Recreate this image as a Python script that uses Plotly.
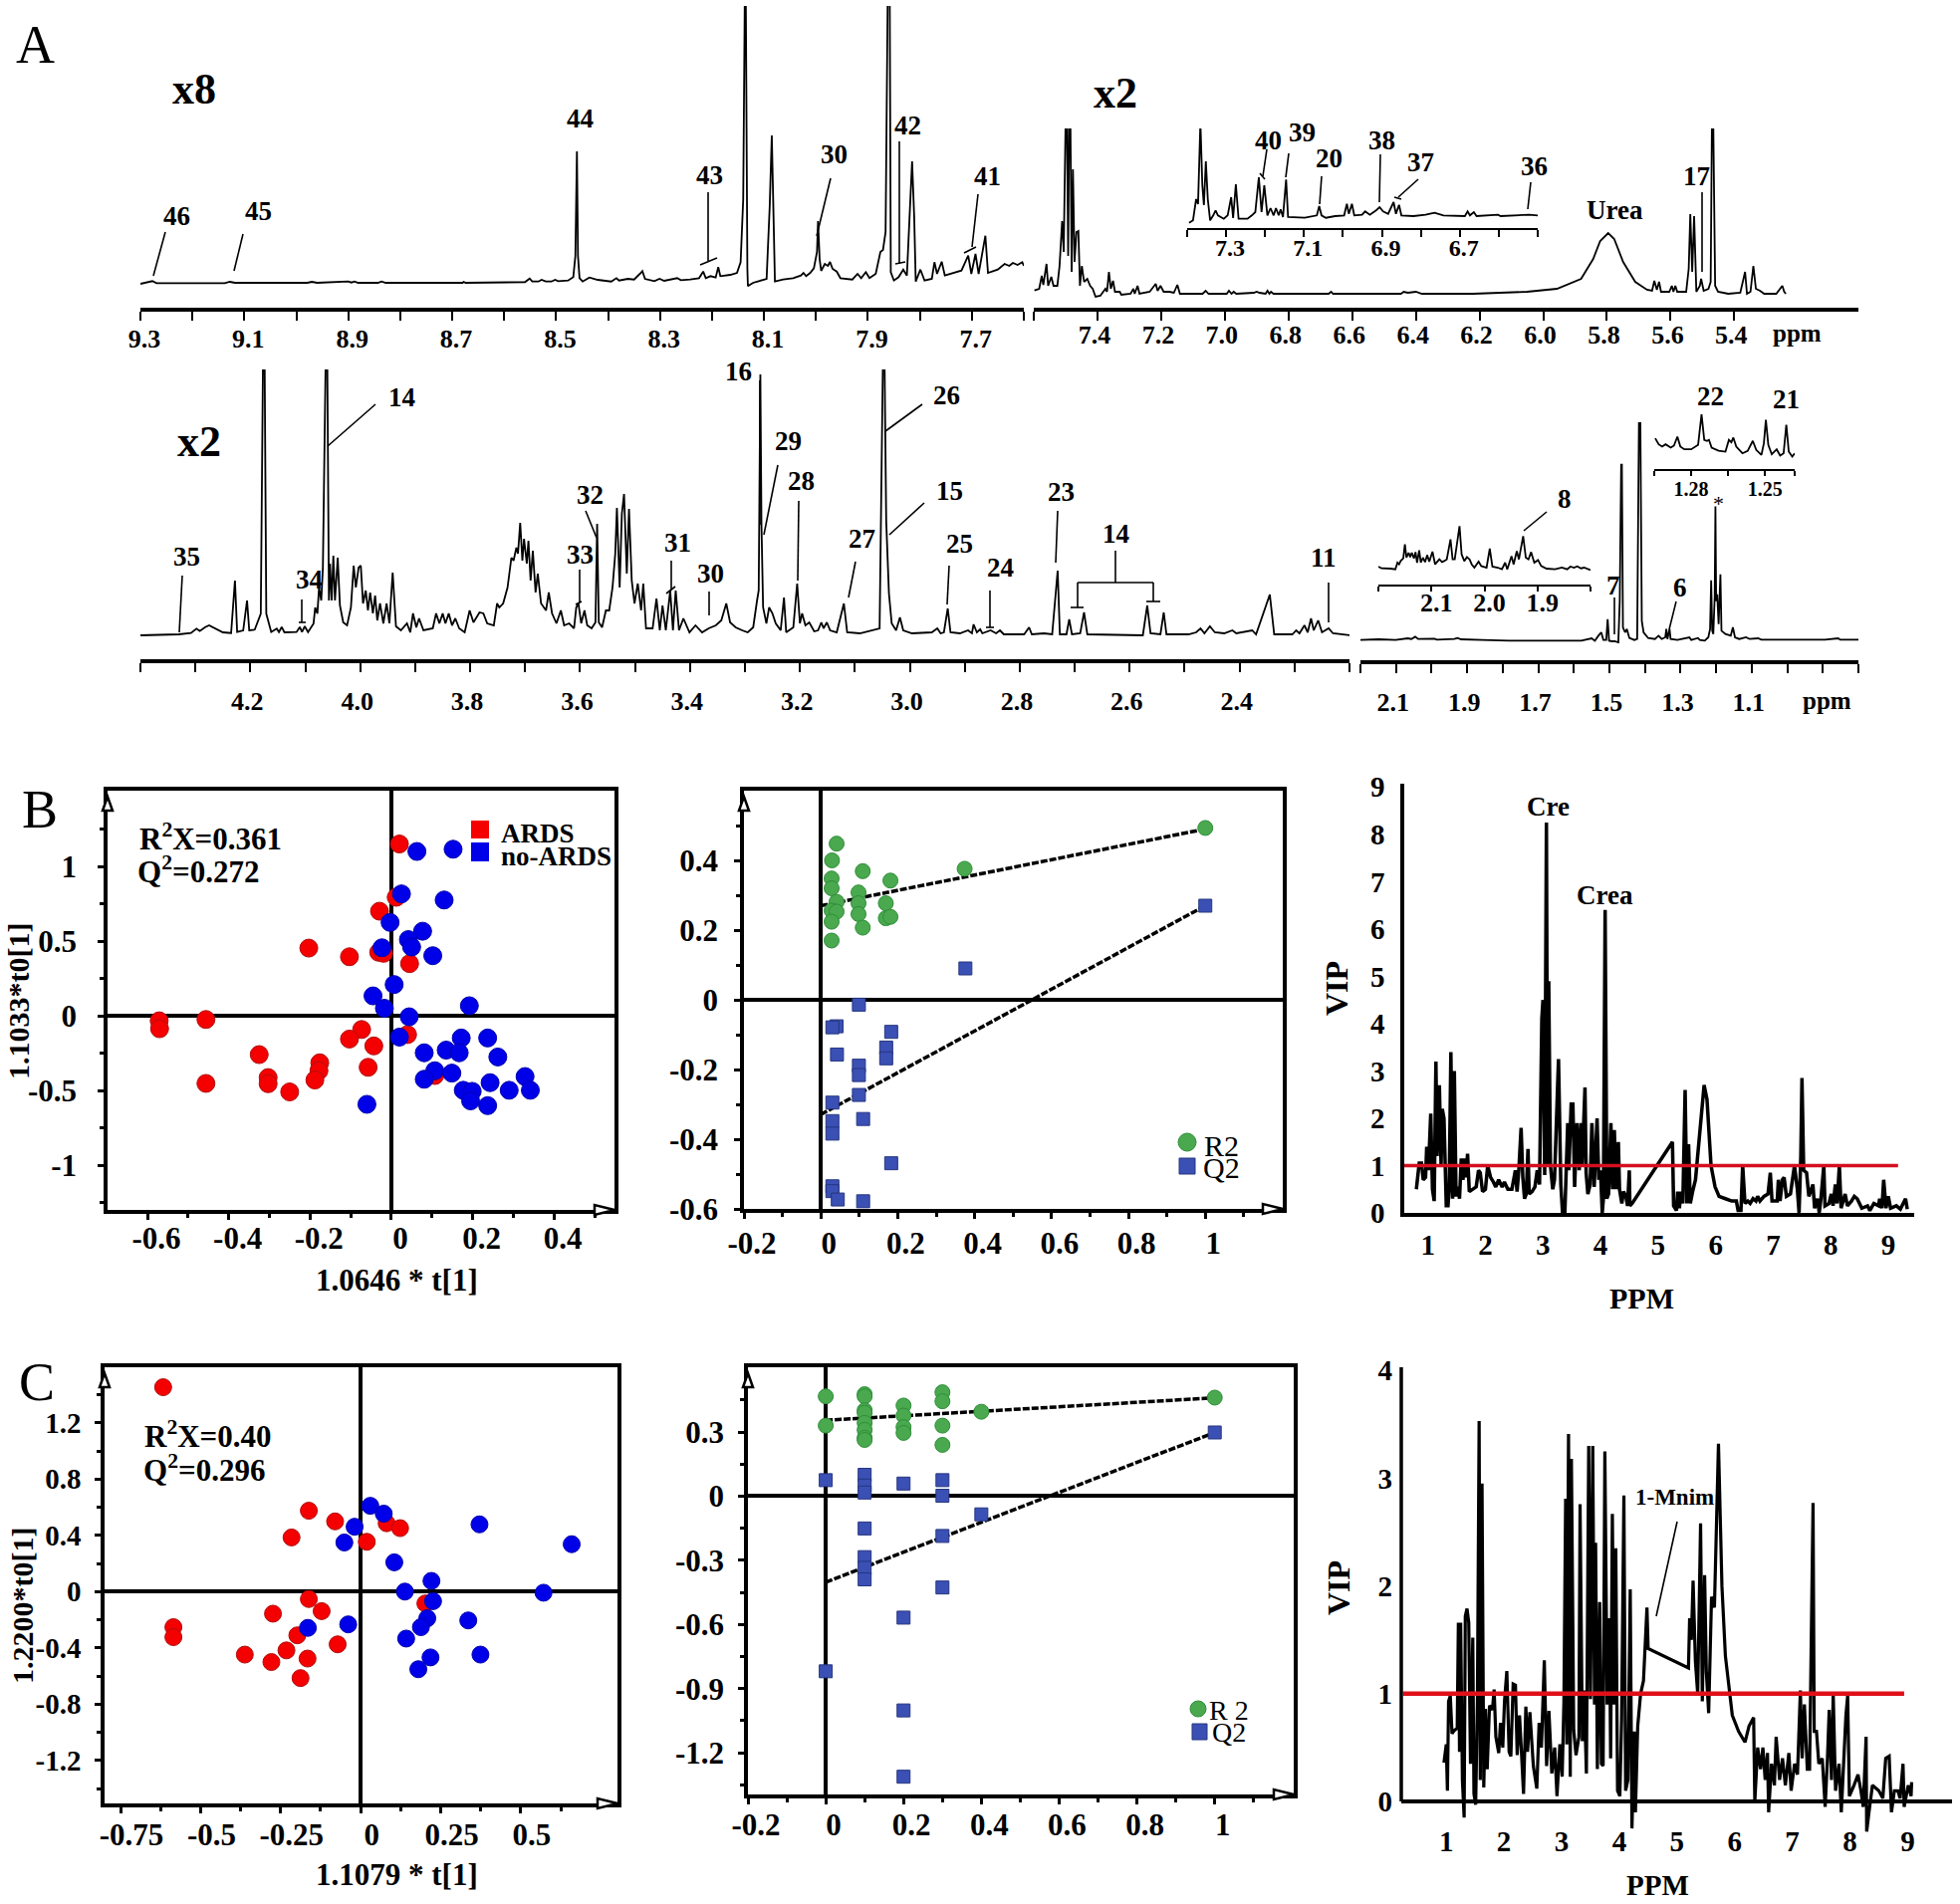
"""NMR spectra (A) with OPLS-DA score, permutation and VIP plots (B, C)."""

import plotly.graph_objects as go

W, H = 1968, 1912
SERIF = "Liberation Serif"

# spectra are (ppm, height above baseline)
SPEC_A1 = [(9.30,0),(9.277,2.7),(9.269,.7),(9.138,.7),(9.128,2),(9.118,1),(8.979,1),(8.97,2),(8.96,1),(8.90,2.3),(8.894,1.3),(8.888,2.3),(8.881,1),(8.843,1),(8.836,2.3),(8.828,1),(8.68,1),(8.678,2),(8.674,1),(8.56,1.7),(8.551,5.3),(8.546,2.3),(8.534,2.3),(8.528,4),(8.52,2.3),(8.509,2.3),(8.502,4),(8.496,2.7),(8.477,3.3),(8.467,6.7),(8.463,28),(8.46,133),(8.458,28),(8.455,5.7),(8.449,2.3),(8.436,6.3),(8.42,4),(8.394,2.3),(8.384,5.7),(8.379,3.3),(8.362,5),(8.35,4.3),(8.339,10),(8.334,12.7),(8.329,5),(8.311,2.7),(8.301,5),(8.292,3),(8.267,5.7),(8.26,3.7),(8.242,4.3),(8.225,5.7),(8.217,12.3),(8.212,5.7),(8.203,7.7),(8.193,6.3),(8.188,16.7),(8.184,7.7),(8.165,9),(8.152,11),(8.145,21.7),(8.14,85),(8.137,285),(8.135,285),(8.132,15),(8.131,-2.3),(8.121,1),(8.108,3.3),(8.095,5),(8.089,78),(8.085,149),(8.081,52),(8.079,2.3),(8.063,4.3),(8.044,5.7),(8.029,8.3),(8.024,11),(8.019,7.7),(8.011,11),(8.004,15.7),(7.998,32),(7.996,63),(7.993,25),(7.99,13),(7.983,20),(7.977,18),(7.973,22),(7.968,15),(7.96,12.3),(7.953,5.7),(7.93,4.3),(7.92,10),(7.913,5.7),(7.904,11.7),(7.897,5.7),(7.885,10),(7.876,32),(7.871,34),(7.866,52),(7.862,285),(7.858,285),(7.856,11.7),(7.85,3.3),(7.841,6.7),(7.832,14.3),(7.825,8.3),(7.818,85),(7.815,123),(7.811,68),(7.808,2.3),(7.799,14.3),(7.791,3.3),(7.777,5),(7.772,21.7),(7.767,10),(7.758,22.3),(7.752,8.3),(7.733,11),(7.72,13.3),(7.707,28.3),(7.701,10),(7.693,30),(7.687,10),(7.674,48.3),(7.669,11),(7.65,14.3),(7.637,20),(7.628,18),(7.621,21),(7.612,19),(7.603,21.7),(7.6,18)]
SPEC_A2 = [(7.598,3.3),(7.583,5),(7.575,18),(7.57,9),(7.56,30),(7.555,8),(7.545,17),(7.538,8),(7.526,8),(7.519,28),(7.511,73),(7.506,42),(7.5,175),(7.496,175),(7.492,38),(7.489,175),(7.485,175),(7.481,22),(7.477,125),(7.472,32),(7.466,62),(7.46,63),(7.455,8),(7.449,28),(7.442,12),(7.432,15),(7.423,8),(7.415,5),(7.406,-3),(7.391,-2),(7.375,5),(7.37,2),(7.364,22),(7.358,5),(7.351,13),(7.345,2),(7.33,2),(7.325,-1),(7.296,0),(7.287,5),(7.283,0),(7.274,8),(7.268,0),(7.236,2),(7.217,10),(7.211,3),(7.202,8),(7.192,2),(7.174,2),(7.16,1),(7.149,9),(7.141,0),(7.07,0),(7.06,3),(7.051,0),(6.994,0),(6.987,3),(6.979,0),(6.972,2),(6.964,0),(6.909,1),(6.9,2),(6.891,1),(6.872,0),(6.866,3),(6.86,0),(6.855,2),(6.847,0),(6.768,0),(6.674,0),(6.666,2),(6.66,0),(6.447,0),(6.438,2),(6.425,1),(6.4,2),(6.381,0),(6.221,0),(6.051,2),(5.957,5),(5.881,15),(5.843,35),(5.821,53),(5.796,61),(5.777,55),(5.749,32),(5.711,12),(5.674,4),(5.658,3),(5.651,13),(5.643,4),(5.636,12),(5.63,2),(5.604,2),(5.596,8),(5.591,2),(5.585,8),(5.579,2),(5.551,2),(5.543,25),(5.538,80),(5.532,22),(5.526,78),(5.519,2),(5.508,8),(5.504,15),(5.496,3),(5.481,5),(5.474,12),(5.47,175),(5.466,175),(5.46,8),(5.451,2),(5.419,0),(5.381,1),(5.366,22),(5.36,0),(5.349,2),(5.34,28),(5.332,5),(5.319,3),(5.306,0),(5.268,0),(5.258,4),(5.249,8),(5.243,2),(5.238,0)]
SPEC_A2_INSET = [(7.395,-5.7),(7.385,-3.3),(7.377,18),(7.372,13),(7.366,95),(7.361,32),(7.357,12),(7.352,56),(7.347,18),(7.341,-3.3),(7.333,1.7),(7.327,6.7),(7.321,1.7),(7.315,0),(7.306,-1.7),(7.296,1.7),(7.287,20),(7.282,-1),(7.275,33),(7.268,-1.7),(7.245,-1.7),(7.234,1.7),(7.225,5),(7.216,40),(7.209,5),(7.202,32),(7.194,1.7),(7.186,9),(7.178,1.7),(7.172,9),(7.165,1.7),(7.16,7.7),(7.154,0),(7.146,37.7),(7.141,0),(7.098,-.7),(7.067,1.7),(7.061,11),(7.055,1.7),(7.044,-.7),(7.02,1),(6.997,1.7),(6.99,13.3),(6.985,3.3),(6.977,13.3),(6.971,1.7),(6.951,2.3),(6.943,5.7),(6.931,2.3),(6.915,6.7),(6.906,10),(6.897,5.7),(6.884,3.3),(6.87,15),(6.864,3.3),(6.856,12.3),(6.85,1.7),(6.819,1),(6.788,2.3),(6.765,4.3),(6.742,1.7),(6.687,1),(6.68,5.7),(6.674,1.7),(6.664,5),(6.657,1),(6.602,2.3),(6.595,1),(6.528,1.7),(6.522,2.3),(6.5,1.7)]
SPEC_A3 = [(4.40,0),(4.33,1),(4.308,2.3),(4.298,6.7),(4.292,4.3),(4.282,8.3),(4.275,10),(4.264,6.7),(4.25,3),(4.235,2.3),(4.228,55),(4.224,3.3),(4.213,5),(4.206,35),(4.202,5),(4.192,5.7),(4.181,21.7),(4.177,275),(4.174,275),(4.171,21.7),(4.162,3.3),(4.152,6.7),(4.148,3.3),(4.143,8.3),(4.138,3),(4.116,3.3),(4.11,8.3),(4.106,3.3),(4.101,9),(4.095,3.3),(4.085,11.7),(4.082,28),(4.078,21.7),(4.075,48),(4.071,35),(4.068,68),(4.063,275),(4.06,275),(4.057,35),(4.055,72),(4.052,35),(4.049,80),(4.046,35),(4.041,78),(4.037,30),(4.031,13),(4.024,10),(4.017,28),(4.012,70),(4.008,48),(4.003,68),(3.999,70),(3.995,32),(3.99,45),(3.986,25),(3.982,43),(3.977,22),(3.973,40),(3.969,15),(3.964,32),(3.958,12),(3.952,32),(3.947,12),(3.941,63),(3.935,9),(3.926,5),(3.915,12),(3.909,3),(3.904,22),(3.898,8),(3.893,17),(3.885,5),(3.868,7),(3.862,22),(3.856,12),(3.85,22),(3.845,12),(3.839,22),(3.833,10),(3.827,17),(3.82,7),(3.81,3),(3.801,25),(3.794,13),(3.783,23),(3.776,22),(3.769,12),(3.757,10),(3.751,32),(3.747,28),(3.74,32),(3.732,48),(3.725,78),(3.721,75),(3.716,88),(3.713,82),(3.709,113),(3.705,75),(3.702,97),(3.697,72),(3.694,95),(3.69,55),(3.686,85),(3.681,43),(3.677,62),(3.671,32),(3.662,25),(3.657,43),(3.651,22),(3.643,12),(3.635,25),(3.629,10),(3.62,12),(3.611,7),(3.607,28),(3.603,32),(3.598,12),(3.592,25),(3.587,10),(3.579,7),(3.572,13),(3.569,112),(3.566,13),(3.56,8),(3.553,25),(3.547,25),(3.541,48),(3.536,82),(3.533,128),(3.528,48),(3.524,122),(3.52,142),(3.515,62),(3.511,127),(3.506,55),(3.501,32),(3.495,52),(3.489,25),(3.485,52),(3.48,7),(3.468,7),(3.461,37),(3.455,5),(3.45,30),(3.444,5),(3.436,45),(3.431,5),(3.426,45),(3.42,5),(3.412,17),(3.401,3),(3.39,10),(3.378,3),(3.366,7),(3.353,10),(3.343,15),(3.334,32),(3.327,13),(3.317,8),(3.305,5),(3.295,3),(3.285,8),(3.28,30),(3.278,35),(3.275,45),(3.272,262),(3.27,112),(3.267,28),(3.261,12),(3.256,28),(3.25,22),(3.244,12),(3.235,5),(3.229,38),(3.225,3),(3.212,8),(3.205,52),(3.2,12),(3.196,22),(3.19,10),(3.183,13),(3.174,4),(3.167,5),(3.161,13),(3.157,7),(3.151,13),(3.145,5),(3.133,3),(3.12,32),(3.114,3),(3.091,2),(3.055,7),(3.049,275),(3.046,275),(3.043,115),(3.038,42),(3.033,12),(3.025,5),(3.018,18),(3.012,5),(2.996,2),(2.96,3),(2.95,7),(2.944,2),(2.938,3),(2.931,27),(2.926,3),(2.909,2),(2.894,5),(2.887,2),(2.884,11),(2.878,3),(2.872,6),(2.868,2),(2.853,5),(2.843,2),(2.836,5),(2.829,1),(2.792,1),(2.783,8),(2.778,1),(2.756,2),(2.741,1),(2.731,65),(2.727,1),(2.715,1),(2.71,16),(2.705,1),(2.69,2),(2.683,23),(2.677,1),(2.617,0),(2.576,0),(2.568,30),(2.562,2),(2.544,1),(2.538,23),(2.533,1),(2.493,1),(2.479,3),(2.471,7),(2.464,2),(2.454,9),(2.445,3),(2.428,2),(2.413,5),(2.406,2),(2.377,5),(2.37,1),(2.345,41),(2.337,1),(2.304,1),(2.297,5),(2.291,2),(2.282,10),(2.276,3),(2.27,17),(2.265,5),(2.257,15),(2.25,3),(2.238,7),(2.23,2),(2.199,0)]
SPEC_A4 = [(2.2,0),(2.149,.7),(2.101,0),(2.067,1.7),(2.057,1),(2.046,3.3),(2.038,1),(1.992,1.3),(1.985,.3),(1.936,1),(1.927,2),(1.917,.7),(1.859,0),(1.782,-.7),(1.647,-.7),(1.579,-.7),(1.55,1.7),(1.541,-.7),(1.531,4.3),(1.523,7.7),(1.517,0),(1.509,0),(1.505,21),(1.501,-.7),(1.492,-1.3),(1.485,-1.3),(1.475,-2.3),(1.471,39),(1.467,176),(1.465,176),(1.462,12.7),(1.456,7.7),(1.451,11),(1.444,2),(1.43,0),(1.422,1),(1.417,217.7),(1.413,217.7),(1.409,19.3),(1.404,7.7),(1.391,2),(1.372,1),(1.362,4.3),(1.353,1),(1.343,2.7),(1.34,11),(1.337,1),(1.331,11),(1.328,1),(1.309,0),(1.275,2.7),(1.27,0),(1.251,2),(1.246,0),(1.232,-.7),(1.222,2.7),(1.217,11),(1.214,60),(1.211,9.3),(1.208,6),(1.204,44),(1.202,134.3),(1.2,39),(1.197,46),(1.193,16),(1.188,66),(1.185,9.3),(1.174,6),(1.159,4.3),(1.153,12.7),(1.147,2.7),(1.135,1),(1.116,2.7),(1.106,1),(1.082,1.7),(1.073,.3),(.991,.3),(.894,.3),(.857,1.7),(.851,.3),(.8,.3)]
SPEC_A4_INSET8 = [(2.2,2.7),(2.194,1),(2.177,.7),(2.168,0),(2.164,6.7),(2.161,5),(2.158,8.3),(2.153,11),(2.15,25),(2.147,11.7),(2.143,16.7),(2.14,12.3),(2.137,16.7),(2.133,11),(2.13,17.3),(2.127,6.7),(2.123,19),(2.12,6.7),(2.116,11.7),(2.112,7.3),(2.108,14.3),(2.104,7.7),(2.098,17.7),(2.093,5),(2.085,10),(2.08,7.3),(2.076,8.3),(2.071,10),(2.064,30),(2.06,10),(2.056,10),(2.047,43.3),(2.043,15),(2.038,8.3),(2.033,12.3),(2.028,10),(2.024,5),(2.019,1.7),(2.011,7.7),(2.006,3.3),(1.996,1.7),(1.99,20.7),(1.985,2.7),(1.975,1.7),(1.967,0),(1.961,6.7),(1.957,0),(1.949,13.3),(1.945,5),(1.939,18.3),(1.935,10),(1.927,33.3),(1.922,11.7),(1.917,10),(1.912,17.3),(1.906,6.7),(1.899,9.3),(1.893,3.3),(1.883,.7),(1.867,0),(1.854,1.7),(1.844,0),(1.838,2.7),(1.831,1.7),(1.825,3),(1.818,1),(1.812,1.7),(1.8,-.7)]
SPEC_A4_INSET22 = [(1.2946,17.3),(1.2932,11.3),(1.2918,9),(1.2904,11.3),(1.2883,8),(1.287,10),(1.2856,19),(1.2844,9),(1.2828,6.3),(1.28,6.3),(1.2772,10.7),(1.2758,41.3),(1.2747,15.7),(1.2736,14.7),(1.2728,15.7),(1.2717,8),(1.2689,5),(1.2661,4),(1.2647,15.7),(1.2637,13.3),(1.2629,18),(1.2617,9),(1.2592,2.3),(1.2571,4.7),(1.255,14.7),(1.2536,5.7),(1.2515,.7),(1.2505,12.3),(1.2497,35.7),(1.2487,10.7),(1.2473,1.3),(1.2453,6.3),(1.2439,0),(1.2425,2.3),(1.2414,30.7),(1.2404,4),(1.239,-1),(1.238,2.3)]

A1_TICKS = [9.3,9.1,8.9,8.7,8.5,8.3,8.1,7.9,7.7]
A1_TEXT = ["9.3","9.1","8.9","8.7","8.5","8.3","8.1","7.9","7.7"]
A1_MINOR = [9.2,9.0,8.8,8.6,8.4,8.2,8.0,7.8,7.6]
A2_TICKS = [7.4,7.2,7.0,6.8,6.6,6.4,6.2,6.0,5.8,5.6,5.4]
A2_TEXT = ["7.4","7.2","7.0","6.8","6.6","6.4","6.2","6.0","5.8","5.6","5.4"]
A2_MINOR = [7.6]
A2_INSET_TICKS = [7.3,7.1,6.9,6.7]
A2_INSET_TEXT = ["7.3","7.1","6.9","6.7"]
A2_INSET_MINOR = [7.4,7.2,7.0,6.8,6.6,6.5]
A3_TICKS = [4.2,4.0,3.8,3.6,3.4,3.2,3.0,2.8,2.6,2.4]
A3_TEXT = ["4.2","4.0","3.8","3.6","3.4","3.2","3.0","2.8","2.6","2.4"]
A3_MINOR = [4.4,4.3,4.1,3.9,3.7,3.5,3.3,3.1,2.9,2.7,2.5,2.3,2.2]
A4_TICKS = [2.1,1.9,1.7,1.5,1.3,1.1]
A4_TEXT = ["2.1","1.9","1.7","1.5","1.3","1.1"]
A4_MINOR = [2.2,2.0,1.8,1.6,1.4,1.2,1.0,0.9,0.8]
INSET8_TICKS = [2.1,2.0,1.9]
INSET8_TEXT = ["2.1","2.0","1.9"]
INSET8_MINOR = [2.2,1.8]
INSET22_TICKS = [1.28,1.25]
INSET22_TEXT = ["1.28","1.25"]
INSET22_MINOR = [1.295,1.265,1.238]

# B: score plot
B_RED_X = [.02,.012,-.029,-.203,-.103,-.031,-.019,.045,-.571,-.57,-.456,-.073,-.103,-.043,.04,-.325,-.057,-.176,-.178,-.188,-.303,-.303,-.456,-.25,.107]
B_RED_Y = [1.15,.793,.70,.453,.395,.425,.418,.349,-.034,-.087,-.025,-.092,-.156,-.202,-.126,-.26,-.345,-.315,-.368,-.43,-.414,-.455,-.453,-.51,-.40]
B_BLUE_X = [.063,.152,.025,.13,-.003,.077,.042,.05,-.023,.102,.007,-.045,-.017,.192,.044,.02,.172,.237,.081,.135,.167,.262,.107,.149,.081,.329,.243,.342,.29,.177,.199,.195,.237,-.06]
B_BLUE_Y = [1.10,1.115,.816,.775,.625,.566,.51,.46,.455,.402,.209,.133,.05,.067,-.007,-.143,-.149,-.149,-.248,-.23,-.248,-.276,-.368,-.384,-.425,-.407,-.448,-.499,-.499,-.499,-.506,-.57,-.602,-.593]

# B: permutation test
B_R2_X = [.041,.029,.028,.028,.041,.028,.041,.028,.028,.109,.098,.098,.098,.109,.181,.169,.169,.181,.374,1]
B_R2_Y = [.448,.40,.348,.32,.281,.256,.253,.224,.17,.369,.308,.277,.246,.207,.342,.277,.234,.238,.376,.493]
B_Q2_X = [.041,.03,.099,.183,.17,.17,.042,.099,.099,.099,.03,.03,.03,.11,.183,.03,.03,.044,.11,.376,1]
B_Q2_Y = [-.076,-.079,-.014,-.092,-.137,-.168,-.157,-.189,-.216,-.273,-.295,-.348,-.384,-.342,-.469,-.535,-.549,-.573,-.578,.09,.27]
B_R2_FIT_X, B_R2_FIT_Y = [0,1], [.27,.49]
B_Q2_FIT_X, B_Q2_FIT_Y = [0,1], [-.329,.27]

# B: VIP
B_VIP = [(.80,.5),(.85,1.05),(.89,1.05),(.92,.7),(.96,.75),(.98,1.4),(1.01,.9),(1.05,2.1),(1.08,.5),(1.11,.25),(1.14,3.2),(1.16,1.2),(1.2,2.7),(1.23,1),(1.25,2.2),(1.28,2),(1.32,.15),(1.35,.15),(1.37,.5),(1.4,3.4),(1.43,.3),(1.46,3),(1.49,.35),(1.52,.55),(1.55,.3),(1.58,1.15),(1.61,.7),(1.64,1.15),(1.66,.75),(1.69,1.25),(1.72,.45),(1.79,.5),(1.84,.55),(1.88,.9),(1.91,.85),(1.95,.45),(2.0,.5),(2.04,1),(2.09,.75),(2.14,.65),(2.18,.55),(2.23,.7),(2.29,.55),(2.33,.65),(2.39,.5),(2.46,.5),(2.52,.9),(2.55,.45),(2.58,.9),(2.62,1.8),(2.65,.75),(2.68,.3),(2.71,.4),(2.74,1.35),(2.76,.4),(2.81,.45),(2.86,.55),(2.9,.9),(2.94,.6),(2.98,4.1),(3.0,4.5),(3.03,.8),(3.06,8.25),(3.08,1),(3.1,4.9),(3.13,1),(3.17,.5),(3.2,.7),(3.24,2),(3.27,3.25),(3.31,.6),(3.34,0),(3.38,0),(3.4,1),(3.43,1.9),(3.45,.9),(3.49,2.3),(3.52,2.3),(3.55,.55),(3.59,1.9),(3.63,.9),(3.66,1.9),(3.68,1),(3.73,2.65),(3.75,.85),(3.78,.4),(3.82,.6),(3.85,1.9),(3.89,.55),(3.94,2),(3.97,.7),(4.0,.9),(4.03,0),(4.05,.3),(4.08,6.4),(4.11,.3),(4.14,.4),(4.18,1.9),(4.21,.5),(4.24,1.75),(4.27,.5),(4.31,1.5),(4.33,.5),(4.37,.2),(4.4,.45),(4.44,.35),(4.47,.15),(4.5,.9),(4.51,.15),(4.55,.2),(5.25,1.5),(5.27,.15),(5.32,.05),(5.34,.45),(5.37,.1),(5.4,.45),(5.43,.2),(5.47,2.6),(5.5,.2),(5.53,1.45),(5.56,.2),(5.6,.45),(5.65,.7),(5.71,1.5),(5.8,2.7),(5.85,2.4),(5.92,1),(5.99,.55),(6.06,.35),(6.17,.3),(6.28,.25),(6.36,.25),(6.39,.05),(6.44,.05),(6.47,1),(6.51,.2),(6.56,.25),(6.6,.2),(6.65,.3),(6.7,.25),(6.73,.35),(6.77,.25),(6.84,.35),(6.91,.4),(6.95,.85),(6.98,.25),(7.07,.25),(7.09,.7),(7.12,.25),(7.16,.7),(7.19,.75),(7.23,.35),(7.3,.4),(7.37,1),(7.42,.5),(7.45,0),(7.48,1.2),(7.5,2.85),(7.53,.9),(7.58,.85),(7.62,.35),(7.69,.6),(7.72,.1),(7.77,.3),(7.8,0),(7.83,.3),(7.88,1),(7.9,.15),(7.97,.2),(8.01,.4),(8.04,.15),(8.08,.6),(8.11,.2),(8.15,1),(8.18,.1),(8.25,.4),(8.29,.15),(8.36,.25),(8.41,.35),(8.46,.3),(8.54,.1),(8.64,.15),(8.68,.05),(8.75,.2),(8.83,.15),(8.85,.3),(8.89,.1),(8.92,.7),(8.96,.1),(9.0,.35),(9.04,.1),(9.14,.15),(9.21,.08),(9.3,.3),(9.33,.08)]
B_VIP_CUT_X, B_VIP_CUT_Y = [.59,9.17], [1,1]

# C: score plot
C_RED_X = [-.617,-.162,-.08,-.216,.081,.123,.019,-.585,-.585,-.274,-.162,-.122,-.198,-.232,-.362,-.279,-.166,-.188,-.072,.202]
C_RED_Y = [1.453,.575,.499,.385,.486,.451,.354,-.253,-.324,-.157,-.053,-.139,-.311,-.418,-.448,-.501,-.476,-.615,-.375,-.084]
C_BLUE_X = [.03,.072,-.019,-.051,.371,.659,.105,.221,.138,.571,.226,-.039,-.165,.208,.188,.336,.142,.374,.218,.18]
C_BLUE_Y = [.61,.554,.461,.349,.478,.337,.208,.076,0,-.008,-.068,-.233,-.258,-.19,-.253,-.205,-.334,-.448,-.468,-.552]

# C: permutation test
C_R2_X = [0,0,.1,.1,.1,.1,.1,.1,.1,.1,.2,.2,.2,.2,.3,.3,.3,.3,.4,1]
C_R2_Y = [.467,.33,.477,.467,.402,.39,.343,.31,.273,.263,.424,.377,.323,.296,.486,.444,.33,.24,.395,.461]
C_Q2_X = [0,0,.1,.1,.1,.1,.1,.1,.1,.2,.2,.2,.2,.3,.3,.3,.3,.4,1]
C_Q2_Y = [.075,-.819,.1,.05,.017,-.151,-.285,-.335,-.389,.059,-.568,-1.002,-1.312,.075,.002,-.186,-.427,-.085,.298]
C_R2_FIT_X, C_R2_FIT_Y = [0,1], [.355,.46]
C_Q2_FIT_X, C_Q2_FIT_Y = [0,1], [-.402,.298]

# C: VIP
C_VIP = [(.96,.36),(1,.53),(1.02,.1),(1.04,.93),(1.07,.98),(1.1,.63),(1.14,.66),(1.19,.68),(1.21,1.66),(1.23,.46),(1.25,1.66),(1.28,.2),(1.31,-.15),(1.33,1.72),(1.36,1.79),(1.39,1.66),(1.42,.35),(1.46,1.52),(1.48,.07),(1.51,-.03),(1.54,.93),(1.57,3.53),(1.59,.2),(1.62,2.95),(1.65,.13),(1.68,.86),(1.71,.3),(1.75,.89),(1.8,.85),(1.83,1.04),(1.86,.6),(1.91,.45),(1.94,.73),(1.98,.5),(2.01,.93),(2.05,1.21),(2.09,.46),(2.12,.42),(2.16,1.09),(2.2,1.08),(2.23,.43),(2.27,.8),(2.3,.5),(2.34,.07),(2.38,.88),(2.41,.46),(2.45,.83),(2.51,.33),(2.57,.12),(2.61,.73),(2.65,.5),(2.7,1.31),(2.74,.33),(2.78,.84),(2.83,.26),(2.88,.5),(2.92,.05),(2.97,.53),(3.01,.23),(3.04,.93),(3.07,2.81),(3.09,.53),(3.12,3.41),(3.15,.23),(3.17,3.18),(3.21,.66),(3.25,.43),(3.3,.6),(3.32,2.76),(3.36,.56),(3.39,1.03),(3.43,.26),(3.47,3.3),(3.5,.95),(3.54,3.3),(3.57,.9),(3.59,2.4),(3.62,.3),(3.66,1.85),(3.69,.35),(3.72,.33),(3.75,3.25),(3.79,.9),(3.83,1.7),(3.85,.4),(3.88,2.67),(3.91,.9),(3.94,2.35),(3.97,.1),(4.01,.05),(4.04,.75),(4.08,2.84),(4.11,.1),(4.15,.2),(4.19,1.97),(4.22,-.25),(4.26,.65),(4.28,-.1),(4.32,.7),(4.37,1),(4.42,1.12),(4.48,1.8),(4.5,1.42),(5.2,1.24),(5.22,1.7),(5.25,1.5),(5.28,2.05),(5.32,1.3),(5.36,1),(5.41,2.58),(5.44,.93),(5.48,2.1),(5.51,1.2),(5.55,.82),(5.6,1.9),(5.65,1.8),(5.72,3.32),(5.78,2),(5.84,1.35),(5.91,1),(5.96,.8),(6.07,.65),(6.18,.55),(6.25,.7),(6.33,.78),(6.35,0),(6.4,.5),(6.45,.3),(6.49,.5),(6.53,.2),(6.57,.45),(6.59,-.1),(6.64,.35),(6.69,.15),(6.72,.6),(6.78,.2),(6.83,.4),(6.88,.15),(6.94,.45),(6.98,.1),(7.04,.35),(7.09,.25),(7.14,1.03),(7.17,.4),(7.21,.9),(7.26,.3),(7.3,.3),(7.36,2.77),(7.38,.65),(7.42,.65),(7.46,.35),(7.52,.4),(7.57,-.05),(7.61,.4),(7.64,.85),(7.68,.2),(7.71,1),(7.75,.1),(7.81,.35),(7.85,-.1),(7.88,.3),(7.93,.8),(7.96,.98),(7.99,.05),(8.07,.15),(8.14,.25),(8.19,.1),(8.23,-.05),(8.28,.6),(8.29,-.28),(8.33,-.1),(8.39,.15),(8.5,.1),(8.57,.03),(8.62,.4),(8.68,.42),(8.72,-.1),(8.77,.1),(8.83,.1),(8.87,.03),(8.92,.35),(8.94,-.05),(9.01,.15),(9.06,.05),(9.07,.18)]
C_VIP_CUT_X, C_VIP_CUT_Y = [.25,8.94], [1,1]

PPM_TICKS = [1,2,3,4,5,6,7,8,9]

# labels: centre in page px, text
PEAK_LABELS = [
    (177,217,"46"),(259,212,"45"),(582,119,"44"),(712,176,"43"),(837,155,"30"),(911,126,"42"),(991,177,"41"),
    (1273,141,"40"),(1307,133,"39"),(1334,159,"20"),(1387,141,"38"),(1426,163,"37"),(1540,167,"36"),(1621,211,"Urea"),(1703,177,"17"),
    (403,399,"14"),(741,373,"16"),(950,397,"26"),(791,443,"29"),(804,483,"28"),(592,497,"32"),(953,493,"15"),(1065,494,"23"),
    (582,557,"33"),(680,545,"31"),(187,559,"35"),(310,582,"34"),(713,576,"30"),(865,541,"27"),(963,546,"25"),(1004,570,"24"),
    (1120,536,"14"),(1329,560,"11"),(1717,398,"22"),(1793,401,"21"),(1571,501,"8"),(1620,588,"7"),(1687,590,"6"),
]
LEADERS = [
    (166,233,154,277),(244,235,235,272),(711,193,711,262),(703,266,720,259),(834,179,820,237),(903,142,903,265),(899,265,909,263),
    (982,195,976,248),(968,254,980,248),(1272,150,1268,177),(1265,174,1270,180),(1294,154,1291,178),(1327,177,1325,205),
    (1386,155,1385,203),(1424,180,1404,198),(1400,198,1407,200),(1537,183,1534,210),(1709,193,1709,273),
    (377,406,329,448),(926,406,889,433),(928,505,893,537),(763,382,763,527),(781,467,767,537),(802,503,801,583),(588,513,599,540),
    (582,572,582,605),(578,607,584,604),(674,563,674,593),(669,596,678,589),(712,594,712,618),(183,578,180,635),(303,602,303,625),(300,625,307,625),
    (859,564,852,600),(953,568,951,607),(994,593,994,630),(990,630,998,630),(1062,513,1060,565),(1334,585,1334,625),
    (1120,553,1120,585),(1082,585,1158,585),(1082,585,1082,610),(1158,585,1158,604),(1075,610,1088,610),(1151,604,1165,604),
    (1553,514,1530,533),(1621,600,1621,637),(1683,604,1676,632),(1684,1528,1663,1623),
]

fig = go.Figure()


def axes(n, left, right, top, bottom, xrange, yrange, xaxis, yaxis):
    fig.update_layout(**{
        f"xaxis{n}": dict(domain=[left / W, right / W], anchor=f"y{n}", range=xrange, showgrid=False, automargin=False, **xaxis),
        f"yaxis{n}": dict(domain=[1 - bottom / H, 1 - top / H], anchor=f"x{n}", range=yrange, showgrid=False, automargin=False, **yaxis),
    })


def font(size, bold=True):
    return dict(family=SERIF, size=size, color="black", weight="bold" if bold else "normal")


def label(px, py, text, size=27, bold=True, angle=0):
    fig.add_annotation(xref="paper", yref="paper", x=px / W, y=1 - py / H, text=text, showarrow=False,
                       xanchor="center", yanchor="middle", textangle=angle, font=font(size, bold))


def seg(x0, y0, x1, y1, width=1.6, color="black"):
    fig.add_shape(type="line", xref="paper", yref="paper", x0=x0 / W, y0=1 - y0 / H, x1=x1 / W, y1=1 - y1 / H,
                  line=dict(color=color, width=width))


def arrow(pts):
    path = "M " + " L ".join(f"{x / W:.5f} {1 - y / H:.5f}" for x, y in pts) + " Z"
    fig.add_shape(type="path", xref="paper", yref="paper", path=path, fillcolor="white", line=dict(color="black", width=2.5))


# ticklabelshift runs along the axis, so on these reversed ppm axes a negative shift moves labels right
def spectrum(n, data, left, right, top, bottom, xrange, yrange, ticks, text, minor, size=26, standoff=8, shift=0, ticklen=9, lw=4, width=1.8):
    axes(n, left, right, top, bottom, xrange, yrange,
         dict(showline=True, linecolor="black", linewidth=lw, ticks="outside", ticklen=ticklen, tickwidth=2.2, tickcolor="black",
              tickmode="array", tickvals=ticks, ticktext=text, tickfont=font(size), ticklabelstandoff=standoff, ticklabelshift=shift, zeroline=False,
              minor=dict(tickmode="array", tickvals=minor, ticks="outside", ticklen=ticklen, tickwidth=2.2, tickcolor="black")),
         dict(visible=False))
    fig.add_trace(go.Scatter(x=[p[0] for p in data], y=[p[1] for p in data], mode="lines", xaxis=f"x{n}", yaxis=f"y{n}",
                             line=dict(color="black", width=width), hoverinfo="skip"))


def boxed(n, left, right, top, bottom, xrange, yrange, xt, xtext, xminor, yt, ytext, yminor, xshift, ystandoff, xstandoff, yfont=31):
    common = dict(showline=True, mirror=True, linecolor="black", linewidth=3.5, ticks="outside", ticklen=6, tickwidth=3, tickcolor="black",
                  tickmode="array", zeroline=True, zerolinecolor="black", zerolinewidth=3.5)
    axes(n, left, right, top, bottom, xrange, yrange,
         dict(tickvals=xt, ticktext=xtext, ticklabelshift=xshift, ticklabelstandoff=xstandoff, tickfont=font(31),
              minor=dict(tickmode="array", tickvals=xminor, ticks="outside", ticklen=4, tickwidth=3, tickcolor="black"), **common),
         dict(tickvals=yt, ticktext=ytext, ticklabelstandoff=ystandoff, tickfont=font(yfont),
              minor=dict(tickmode="array", tickvals=yminor, ticks="outside", ticklen=4, tickwidth=3, tickcolor="black"), **common))
    arrow([(left, top + 6), (left - 5, top + 20), (left + 5, top + 20)])
    arrow([(right, bottom), (right - 20, bottom - 5), (right - 20, bottom + 5)])


def dots(n, x, y, color, edge, symbol="circle", size=18):
    fig.add_trace(go.Scatter(x=x, y=y, mode="markers", xaxis=f"x{n}", yaxis=f"y{n}", hoverinfo="skip",
                             marker=dict(color=color, size=size, symbol=symbol, line=dict(color=edge, width=1))))


def fit(n, x, y):
    fig.add_trace(go.Scatter(x=x, y=y, mode="lines", xaxis=f"x{n}", yaxis=f"y{n}", hoverinfo="skip",
                             line=dict(color="black", width=3.5, dash="7px,2px")))


def vip(n, data, cut_x, cut_y, cut_color, cut_width, width):
    fig.add_trace(go.Scatter(x=[p[0] for p in data], y=[p[1] for p in data], mode="lines", xaxis=f"x{n}", yaxis=f"y{n}",
                             line=dict(color="black", width=width), hoverinfo="skip"))
    fig.add_trace(go.Scatter(x=cut_x, y=cut_y, mode="lines", xaxis=f"x{n}", yaxis=f"y{n}",
                             line=dict(color=cut_color, width=cut_width), hoverinfo="skip"))


# panel A
spectrum(1, SPEC_A1, 141, 1028, 6, 309, [9.3, 7.6], [-24, 279], A1_TICKS, A1_TEXT, A1_MINOR, standoff=-4, shift=-4)
spectrum(2, SPEC_A2, 1038, 1866, 129, 309, [7.6, 5.01], [-14, 166], A2_TICKS, A2_TEXT, A2_MINOR, standoff=-8, shift=3)
spectrum(3, SPEC_A2_INSET, 1192, 1544, 129, 229, [7.4, 6.5], [-11, 89], A2_INSET_TICKS, A2_INSET_TEXT, A2_INSET_MINOR, size=24, standoff=-10, shift=-4, ticklen=7, lw=2.2)
spectrum(4, SPEC_A3, 141, 1355, 371, 662, [4.4, 2.2], [-24, 267], A3_TICKS, A3_TEXT, A3_MINOR, standoff=7, shift=3)
spectrum(5, SPEC_A4, 1366, 1866, 371, 663, [2.2, .8], [-20.3, 271.7], A4_TICKS, A4_TEXT, A4_MINOR, standoff=7, shift=3)
spectrum(6, SPEC_A4_INSET8, 1384, 1597, 510, 587, [2.2, 1.8], [-15.3, 61.7], INSET8_TICKS, INSET8_TEXT, INSET8_MINOR, size=26, standoff=-11, shift=-5, ticklen=5, lw=1.6)
spectrum(7, SPEC_A4_INSET22, 1661, 1802, 405, 471, [1.295, 1.238], [-13.4, 52.3], INSET22_TICKS, INSET22_TEXT, INSET22_MINOR, size=20, standoff=-4, ticklen=5, lw=1.6)

label(35, 45, "A", 54, bold=False)
label(195, 90, "x8", 44)
label(1120, 93, "x2", 44)
label(200, 444, "x2", 44)
label(1804, 334, "ppm", 25)
label(1834, 703, "ppm", 25)
label(1725, 505, "*", 22, bold=False)
for px, py, text in PEAK_LABELS:
    label(px, py, text)
for x0, y0, x1, y1 in LEADERS:
    seg(x0, y0, x1, y1)

# panel B
boxed(8, 108, 617, 794, 1215, [-.698, .549], [-1.3, 1.507],
      [-.6, -.4, -.2, 0, .2, .4], ["-0.6", "-0.4", "-0.2", "0", "0.2", "0.4"], [-.5, -.3, -.1, .1, .3, .5],
      [-1, -.5, 0, .5, 1], ["-1", "-0.5", "0", "0.5", "1"], [-1.25, -.75, -.25, .25, .75, 1.25], 9, 15, -8)
dots(8, B_RED_X, B_RED_Y, "#f50000", "#b01010")
dots(8, B_BLUE_X, B_BLUE_Y, "#0000e8", "#0000b0")
label(40, 813, "B", 54, bold=False)
label(211, 840, "R<sup>2</sup>X=0.361", 31)
label(199, 873, "Q<sup>2</sup>=0.272", 31)
fig.add_shape(type="rect", xref="paper", yref="paper", x0=473 / W, x1=491 / W, y0=1 - 842 / H, y1=1 - 824 / H, fillcolor="#f50000", line_width=0)
fig.add_shape(type="rect", xref="paper", yref="paper", x0=473 / W, x1=491 / W, y0=1 - 865 / H, y1=1 - 846 / H, fillcolor="#0000e8", line_width=0)
label(540, 837, "ARDS", 27)
label(558, 860, "no-ARDS", 27)
label(18, 1006, "1.1033*t0[1]", 30, angle=-90)
label(398, 1285, "1.0646 * t[1]", 31)

boxed(9, 747, 1288, 794, 1214, [-.2, 1.2015], [-.6, .6],
      [-.2, 0, .2, .4, .6, .8, 1], ["-0.2", "0", "0.2", "0.4", "0.6", "0.8", "1"], [-.1, .1, .3, .5, .7, .9, 1.1],
      [-.6, -.4, -.2, 0, .2, .4], ["-0.6", "-0.4", "-0.2", "0", "0.2", "0.4"], [-.5, -.3, -.1, .1, .3, .5], 8, 10, -2)
fit(9, B_R2_FIT_X, B_R2_FIT_Y)
fit(9, B_Q2_FIT_X, B_Q2_FIT_Y)
dots(9, B_R2_X, B_R2_Y, "#4aa84e", "#2f8f3a", size=15)
dots(9, B_Q2_X, B_Q2_Y, "#3b50b4", "#26367f", symbol="square", size=13)
fig.add_shape(type="circle", xref="paper", yref="paper", x0=1183 / W, x1=1201 / W, y0=1 - 1156 / H, y1=1 - 1138 / H, fillcolor="#4aa84e", line=dict(color="#2f8f3a", width=1))
fig.add_shape(type="rect", xref="paper", yref="paper", x0=1184 / W, x1=1200 / W, y0=1 - 1179 / H, y1=1 - 1163 / H, fillcolor="#3b50b4", line=dict(color="#26367f", width=1))
label(1226, 1150, "R2", 30, bold=False)
label(1226, 1172, "Q2", 30, bold=False)

axes(10, 1410, 1922, 787, 1218, [.59, 9.45], [0, 9.07],
     dict(showline=True, linecolor="black", linewidth=3.5, ticks="", tickmode="array", tickvals=PPM_TICKS, tickfont=font(29), ticklabelstandoff=3, zeroline=False),
     dict(showline=True, linecolor="black", linewidth=3.5, ticks="", tickmode="array", tickvals=list(range(10)), tickfont=font(29), ticklabelstandoff=10, zeroline=False))
vip(10, B_VIP, B_VIP_CUT_X, B_VIP_CUT_Y, "#d40f1e", 3.5, 3.5)
label(1554, 810, "Cre", 27)
label(1611, 899, "Crea", 27)
label(1342, 993, "VIP", 32, angle=-90)
label(1648, 1303, "PPM", 30)

# panel C
boxed(11, 105, 620, 1373, 1811, [-.8, .802], [-1.506, 1.595],
      [-.75, -.5, -.25, 0, .25, .5], ["-0.75", "-0.5", "-0.25", "0", "0.25", "0.5"], [-.625, -.375, -.125, .125, .375, .625],
      [-1.2, -.8, -.4, 0, .4, .8, 1.2], ["-1.2", "-0.8", "-0.4", "0", "0.4", "0.8", "1.2"], [-1.4, -1, -.6, -.2, .2, .6, 1, 1.4], 11, 8, -5, yfont=29)
dots(11, C_RED_X, C_RED_Y, "#f50000", "#b01010", size=17)
dots(11, C_BLUE_X, C_BLUE_Y, "#0000e8", "#0000b0", size=17)
label(37, 1388, "C", 54, bold=False)
label(209, 1440, "R<sup>2</sup>X=0.40", 31)
label(205, 1474, "Q<sup>2</sup>=0.296", 31)
label(22, 1613, "1.2200*t0[1]", 30, angle=-90)
label(398, 1882, "1.1079 * t[1]", 31)

boxed(12, 751, 1299, 1373, 1802, [-.2, 1.203], [-1.395, .603],
      [-.2, 0, .2, .4, .6, .8, 1], ["-0.2", "0", "0.2", "0.4", "0.6", "0.8", "1"], [-.1, .1, .3, .5, .7, .9, 1.1],
      [-1.2, -.9, -.6, -.3, 0, .3], ["-1.2", "-0.9", "-0.6", "-0.3", "0", "0.3"], [-1.35, -1.05, -.75, -.45, -.15, .15, .45], 8, 8, -6)
fit(12, C_R2_FIT_X, C_R2_FIT_Y)
fit(12, C_Q2_FIT_X, C_Q2_FIT_Y)
dots(12, C_R2_X, C_R2_Y, "#4aa84e", "#2f8f3a", size=15)
dots(12, C_Q2_X, C_Q2_Y, "#3b50b4", "#26367f", symbol="square", size=13)
fig.add_shape(type="circle", xref="paper", yref="paper", x0=1195 / W, x1=1211 / W, y0=1 - 1724 / H, y1=1 - 1708 / H, fillcolor="#4aa84e", line=dict(color="#2f8f3a", width=1))
fig.add_shape(type="rect", xref="paper", yref="paper", x0=1197 / W, x1=1212 / W, y0=1 - 1747 / H, y1=1 - 1731 / H, fillcolor="#3b50b4", line=dict(color="#26367f", width=1))
label(1234, 1717, "R 2", 28, bold=False)
label(1234, 1739, "Q2", 28, bold=False)

axes(13, 1407, 1960, 1373, 1840, [.22, 9.77], [-.286, 4.03],
     dict(showline=False, ticks="", tickmode="array", tickvals=PPM_TICKS, tickfont=font(29), ticklabelstandoff=-11, zeroline=False),
     dict(showline=False, ticks="", tickmode="array", tickvals=[0, 1, 2, 3, 4], tickfont=font(29), ticklabelstandoff=8,
          zeroline=True, zerolinecolor="black", zerolinewidth=3.5))
vip(13, C_VIP, C_VIP_CUT_X, C_VIP_CUT_Y, "#e0101a", 4.5, 3.2)
seg(1407, 1373, 1407, 1809, width=3.5)
label(1681, 1503, "1-Mnim", 23)
label(1344, 1595, "VIP", 32, angle=-90)
label(1664, 1893, "PPM", 29)

fig.update_layout(
    width=W,
    height=H,
    margin=dict(l=0, r=0, t=0, b=0),
    paper_bgcolor="white",
    plot_bgcolor="white",
    showlegend=False,
)

fig.write_html("out.html", post_script="document.body.style.margin='0';", config={"displayModeBar": False})
